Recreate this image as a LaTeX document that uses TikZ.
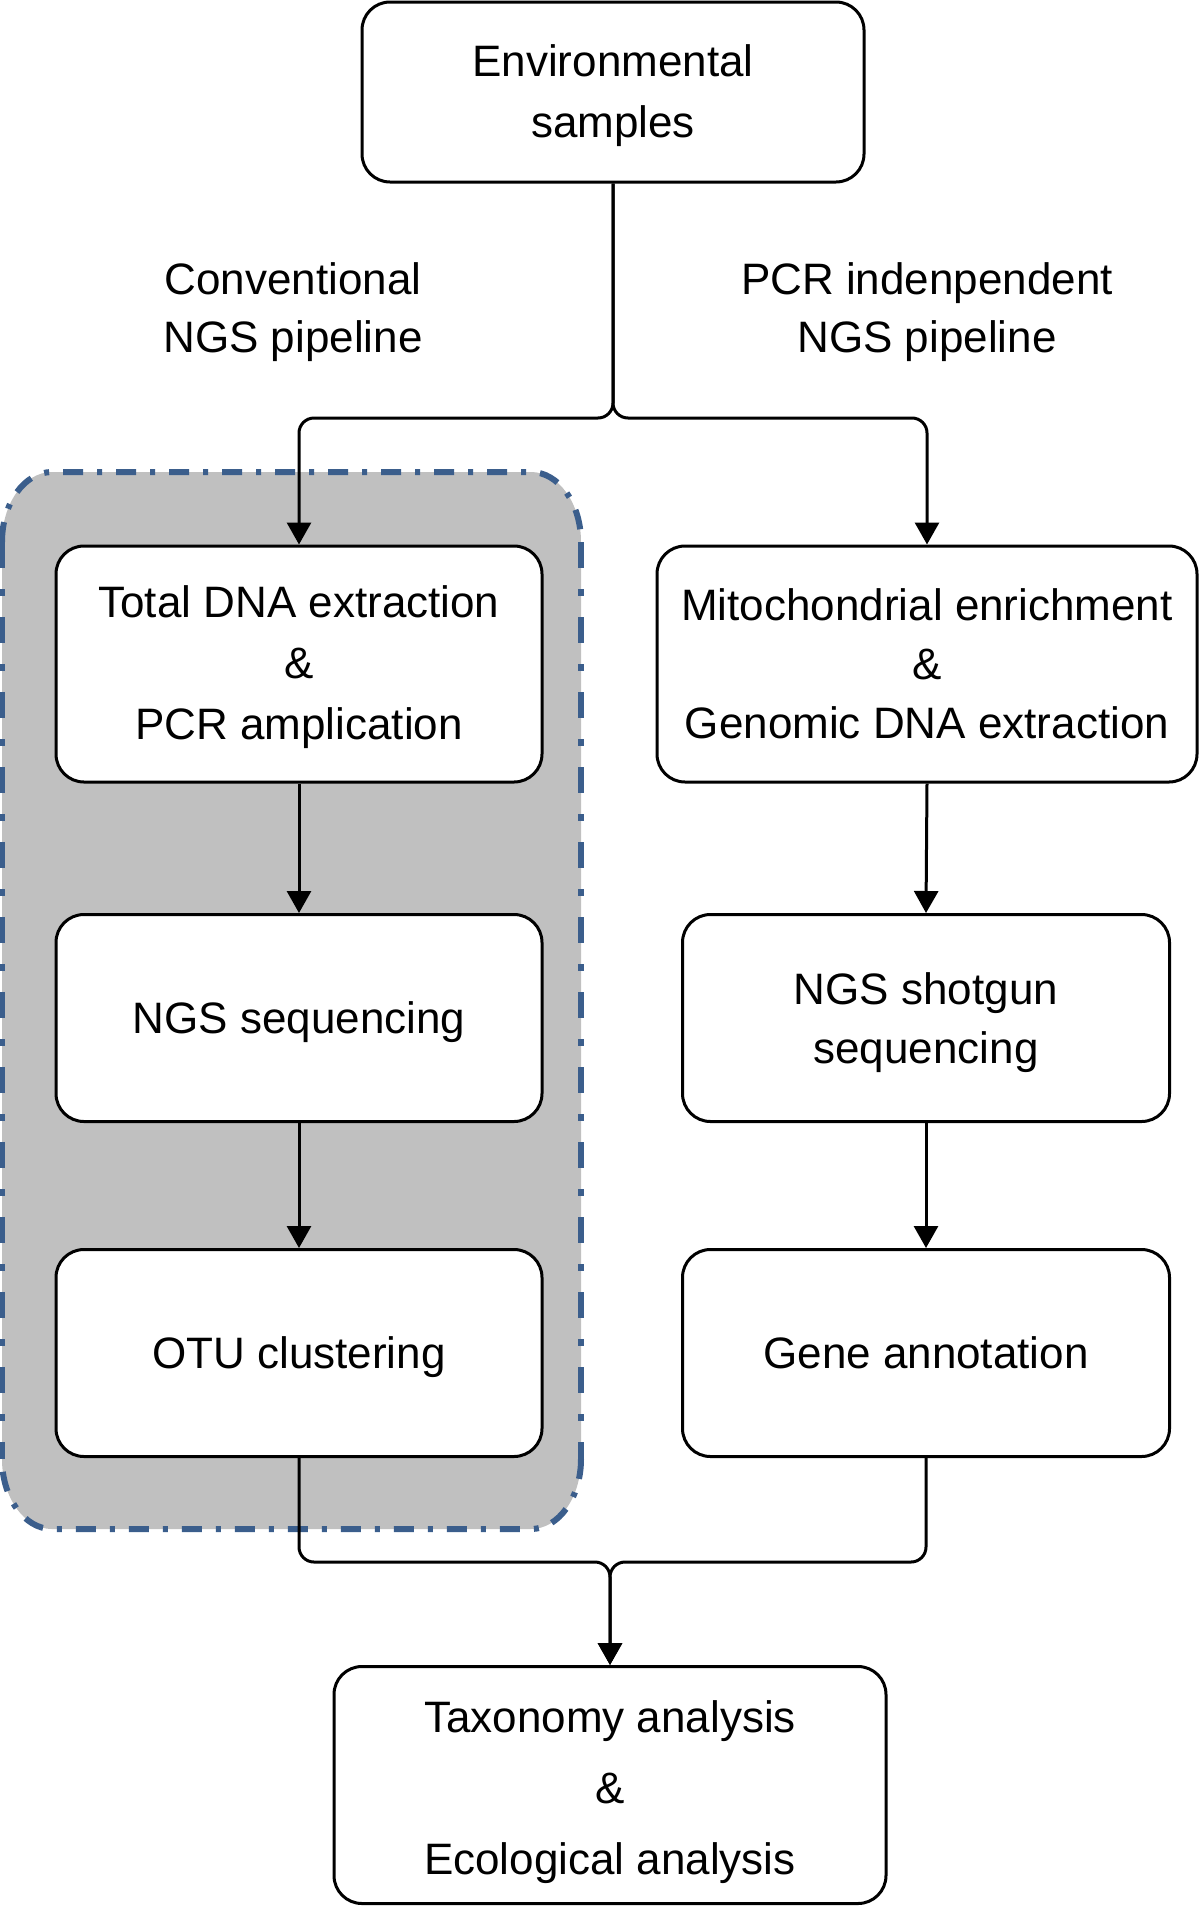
\documentclass[tikz,border=0pt]{standalone}
\usepackage{fontspec}
\setmainfont{Liberation Sans}
\usetikzlibrary{arrows.meta}
\definecolor{dashblue}{HTML}{3B5E8C}
\definecolor{panelgray}{HTML}{C0C0C0}
\begin{document}
\begin{tikzpicture}[x=1pt,y=-1pt,
  box/.style={draw=black, line width=3pt, rounded corners=28pt, fill=white, inner sep=0pt},
  lbl/.style={align=center, inner sep=0pt, font=\fontsize{44}{61}\selectfont},
  conn/.style={line width=3pt, rounded corners=15pt},
  arr/.style={conn, -{Triangle[width=24pt,length=22pt]}},
  panelfill/.style={fill=panelgray},
  hborder/.style={draw=dashblue, line width=6pt, dash pattern=on 20pt off 14pt on 5pt off 14pt},
  vborder/.style={draw=dashblue, line width=5.5pt, dash pattern=on 26pt off 21pt on 7pt off 21pt},
  corner/.style={x radius=50pt, y radius=70pt}]
\useasboundingbox (0,0) rectangle (1200,1906);

% shaded panel of the conventional pipeline
\fill[panelfill] (2,542) arc[start angle=180, end angle=90, corner] -- (531,472)
  arc[start angle=90, end angle=0, corner] -- (581,1459)
  arc[start angle=0, end angle=-90, corner] -- (52,1529)
  arc[start angle=270, end angle=180, corner] -- cycle;
\draw[hborder] (2,542) arc[start angle=180, end angle=90, corner] -- (531,472)
  arc[start angle=90, end angle=0, corner];
\draw[hborder] (581,1459) arc[start angle=0, end angle=-90, corner] -- (52,1529)
  arc[start angle=270, end angle=180, corner];
\draw[vborder] (2,542) -- (2,1459);
\draw[vborder] (581,542) -- (581,1459);

% boxes
\node[box, minimum width=502pt, minimum height=180pt,
  label={[lbl,yshift=-4pt]center:{Environmental\\samples}}] (env) at (613,92) {};

\node[lbl, font=\fontsize{44}{58}\selectfont] (convlbl) at (293,312) {Conventional\\NGS pipeline};
\node[lbl, font=\fontsize{44}{58}\selectfont] (pcrlbl) at (927,312) {PCR indenpendent\\NGS pipeline};

\node[box, minimum width=486pt, minimum height=236pt,
  label={[lbl,yshift=-3pt]center:{Total DNA extraction\\\&\\PCR amplication}}] (l1) at (299,664) {};
\node[box, minimum width=486pt, minimum height=207pt,
  label={[lbl,yshift=-4pt]center:{NGS sequencing}}] (l2) at (299,1018) {};
\node[box, minimum width=486pt, minimum height=207pt,
  label={[lbl,yshift=-4pt]center:{OTU clustering}}] (l3) at (299,1353) {};

\node[box, minimum width=540pt, minimum height=236pt,
  label={[lbl,font=\fontsize{44}{59}\selectfont]center:{Mitochondrial enrichment\\\&\\Genomic DNA extraction}}] (r1) at (927,664) {};
\node[box, minimum width=487pt, minimum height=207pt,
  label={[lbl,yshift=-5pt,font=\fontsize{44}{59}\selectfont]center:{NGS shotgun\\sequencing}}] (r2) at (926,1018) {};
\node[box, minimum width=487pt, minimum height=207pt,
  label={[lbl]center:{Gene annotation}}] (r3) at (926,1353) {};

\node[box, minimum width=552pt, minimum height=237pt,
  label={[lbl,yshift=-7pt,font=\fontsize{44}{71}\selectfont]center:{Taxonomy analysis\\\&\\Ecological analysis}}] (fin) at (610,1785) {};

% split junction
\coordinate (split) at (613,418);
\draw[arr] (env.south) -- (split) -- (l1.north |- split) -- (l1.north);
\draw[arr] (env.south) -- (split) -- (r1.north |- split) -- (r1.north);

% column arrows
\draw[arr] (l1.south) -- (l2.north);
\draw[arr] (l2.south) -- (l3.north);
\draw[arr] (r1.south) -- (r2.north);
\draw[arr] (r2.south) -- (r3.north);

% merge junction
\coordinate (merge) at (610,1562);
\draw[arr] (l3.south) -- (l3.south |- merge) -- (merge) -- (fin.north);
\draw[arr] (r3.south) -- (r3.south |- merge) -- (merge) -- (fin.north);
\end{tikzpicture}
\end{document}
